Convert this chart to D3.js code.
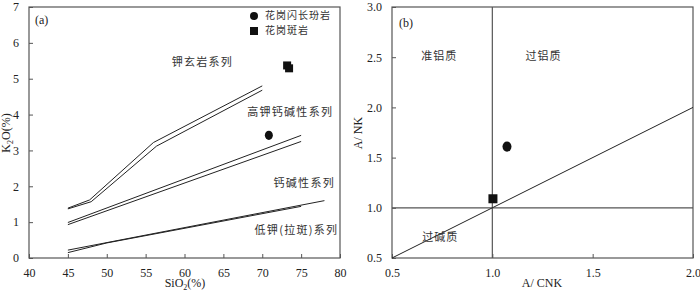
<!DOCTYPE html>
<html>
<head>
<meta charset="utf-8">
<script src="https://cdn.jsdelivr.net/npm/d3@7"></script>
<style>
  body { margin: 0; background: #fff; }
  .tick text { font-family: "Liberation Serif", serif; font-size: 12px; fill: #222; }
  .cn { font-family: "Noto Sans CJK SC", sans-serif; fill: #333; }
</style>
</head>
<body>
<div id="chart"></div>
<script>
// ---------------- data ----------------
// panel (a): SiO2 vs K2O boundaries (double lines)
const shoLineA = [[45, 1.39], [47.8, 1.62], [56, 3.22], [70, 4.80]];
const shoLineB = [[45, 1.37], [48, 1.57], [56.4, 3.12], [70, 4.68]];
const hkLineA = [[45, 0.99], [75, 3.42]];
const hkLineB = [[45, 0.93], [75, 3.25]];
const lkLineA = [[45, 0.22], [78, 1.6]];
const lkLineB = [[45, 0.15], [50, 0.42], [75, 1.44]];

const circlesA = [[70.85, 3.42]];
const squaresA = [[73.2, 5.37], [73.45, 5.29]];

const xTicksA = [40, 45, 50, 55, 60, 65, 70, 75, 80];
const yTicksA = [0, 1, 2, 3, 4, 5, 6, 7];

const seriesLabelsA = [
  {text: "钾玄岩系列", x: 62.3, y: 5.45},
  {text: "高钾钙碱性系列", x: 73.6, y: 4.04},
  {text: "钙碱性系列", x: 75.4, y: 2.06},
  {text: "低钾(拉斑)系列", x: 74.4, y: 0.75}
];
const legendItems = ["花岗闪长玢岩", "花岗斑岩"];

// panel (b): A/CNK vs A/NK
const circlesB = [[1.073, 1.61]];
const squaresB = [[1.003, 1.09]];
const xTicksB = [0.5, 1.0, 1.5, 2.0];
const yTicksB = [0.5, 1.0, 1.5, 2.0, 2.5, 3.0];
const fieldLabelsB = [
  {text: "准铝质", x: 0.735, y: 2.5},
  {text: "过铝质", x: 1.255, y: 2.5},
  {text: "过碱质", x: 0.74, y: 0.7}
];

// ---------------- setup ----------------
const WIDTH = 700, HEIGHT = 296;
const FRAME = "#555";
const svg = d3.select("#chart").append("svg")
  .attr("width", WIDTH).attr("height", HEIGHT);

function drawAxes(g, x, y, xTicks, yTicks, fmtX, fmtY) {
  const [x0, x1] = x.range(), [y0, y1] = y.range();
  g.append("rect")
    .attr("x", x0).attr("y", y1)
    .attr("width", x1 - x0).attr("height", y0 - y1)
    .attr("fill", "none").attr("stroke", FRAME).attr("stroke-width", 1.2);

  const xa = g.append("g").attr("transform", `translate(0,${y0})`)
    .call(d3.axisBottom(x).tickValues(xTicks).tickFormat(fmtX).tickSizeInner(-4).tickSizeOuter(0).tickPadding(10));
  const ya = g.append("g").attr("transform", `translate(${x0},0)`)
    .call(d3.axisLeft(y).tickValues(yTicks).tickFormat(fmtY).tickSizeInner(-4).tickSizeOuter(0).tickPadding(10));
  [xa, ya].forEach(a => {
    a.select(".domain").remove();
    a.selectAll(".tick line").attr("stroke", FRAME);
  });
}

function drawMarkers(g, x, y, circles, squares, r, s) {
  g.selectAll(null).data(circles).enter().append("ellipse")
    .attr("cx", d => x(d[0])).attr("cy", d => y(d[1]))
    .attr("rx", r).attr("ry", r + 0.6).attr("fill", "#111");
  g.selectAll(null).data(squares).enter().append("rect")
    .attr("x", d => x(d[0]) - s / 2).attr("y", d => y(d[1]) - s / 2)
    .attr("width", s).attr("height", s).attr("fill", "#111");
}

// ---------------- panel (a) ----------------
const xA = d3.scaleLinear().domain([40, 80]).range([29, 340]);
const yA = d3.scaleLinear().domain([0, 7]).range([258, 7]);
const gA = svg.append("g");
drawAxes(gA, xA, yA, xTicksA, yTicksA, d3.format("d"), d3.format("d"));

const lineA = d3.line().x(d => xA(d[0])).y(d => yA(d[1]));
[shoLineA, shoLineB, hkLineA, hkLineB, lkLineA, lkLineB].forEach(l => {
  gA.append("path").datum(l).attr("d", lineA)
    .attr("fill", "none").attr("stroke", "#222").attr("stroke-width", 1);
});

drawMarkers(gA, xA, yA, circlesA, squaresA, 4, 8);

gA.selectAll(null).data(seriesLabelsA).enter().append("text")
  .attr("class", "cn")
  .attr("x", d => xA(d.x)).attr("y", d => yA(d.y))
  .attr("text-anchor", "middle").attr("dominant-baseline", "middle")
  .style("font-size", "11px").style("letter-spacing", "1.3px")
  .text(d => d.text);

gA.append("text").attr("x", 35).attr("y", 24)
  .style("font-family", "Liberation Serif").style("font-size", "12px").attr("fill", "#222")
  .text("(a)");

// legend
const legend = gA.append("g").attr("transform", "translate(254,16)");
legend.append("circle").attr("cx", 0).attr("cy", 0).attr("r", 4).attr("fill", "#111");
legend.append("rect").attr("x", -4).attr("y", 11).attr("width", 8).attr("height", 8).attr("fill", "#111");
legend.selectAll(null).data(legendItems).enter().append("text")
  .attr("class", "cn")
  .attr("x", 11).attr("y", (d, i) => i * 15)
  .attr("dominant-baseline", "middle")
  .style("font-size", "10px").style("letter-spacing", "1px")
  .text(d => d);

// axis labels
const xlabA = gA.append("text").attr("x", 185).attr("y", 287)
  .attr("text-anchor", "middle")
  .style("font-family", "Liberation Serif").style("font-size", "12px").attr("fill", "#222");
xlabA.append("tspan").text("SiO");
xlabA.append("tspan").text("2").style("font-size", "8px").attr("dy", 3);
xlabA.append("tspan").text("(%)").attr("dy", -3);

const ylabA = gA.append("text").attr("transform", "translate(10,133) rotate(-90)")
  .attr("text-anchor", "middle")
  .style("font-family", "Liberation Serif").style("font-size", "12px").attr("fill", "#222");
ylabA.append("tspan").text("K");
ylabA.append("tspan").text("2").style("font-size", "8px").attr("dy", 3);
ylabA.append("tspan").text("O(%)").attr("dy", -3);

// ---------------- panel (b) ----------------
const xB = d3.scaleLinear().domain([0.5, 2.0]).range([392, 693]);
const yB = d3.scaleLinear().domain([0.5, 3.0]).range([258, 7]);
const gB = svg.append("g");
drawAxes(gB, xB, yB, xTicksB, yTicksB, d3.format(".1f"), d3.format(".1f"));

// boundaries
gB.append("line").attr("x1", xB(1)).attr("x2", xB(1)).attr("y1", yB(0.5)).attr("y2", yB(3))
  .attr("stroke", FRAME).attr("stroke-width", 1.2);
gB.append("line").attr("x1", xB(0.5)).attr("x2", xB(2)).attr("y1", yB(1)).attr("y2", yB(1))
  .attr("stroke", FRAME).attr("stroke-width", 1.2);
gB.append("line").attr("x1", xB(0.5)).attr("x2", xB(2)).attr("y1", yB(0.5)).attr("y2", yB(2))
  .attr("stroke", "#222").attr("stroke-width", 1);

drawMarkers(gB, xB, yB, circlesB, squaresB, 4.5, 9);

gB.selectAll(null).data(fieldLabelsB).enter().append("text")
  .attr("class", "cn")
  .attr("x", d => xB(d.x)).attr("y", d => yB(d.y))
  .attr("text-anchor", "middle").attr("dominant-baseline", "middle")
  .style("font-size", "11px").style("letter-spacing", "1px")
  .text(d => d.text);

gB.append("text").attr("x", 399).attr("y", 27)
  .style("font-family", "Liberation Serif").style("font-size", "12px").attr("fill", "#222")
  .text("(b)");

gB.append("text").attr("x", 542).attr("y", 287).attr("text-anchor", "middle")
  .style("font-family", "Liberation Serif").style("font-size", "12px").attr("fill", "#222")
  .text("A/ CNK");
gB.append("text").attr("transform", "translate(362,133) rotate(-90)")
  .attr("text-anchor", "middle")
  .style("font-family", "Liberation Serif").style("font-size", "12px").attr("fill", "#222")
  .text("A/ NK");
</script>
</body>
</html>
